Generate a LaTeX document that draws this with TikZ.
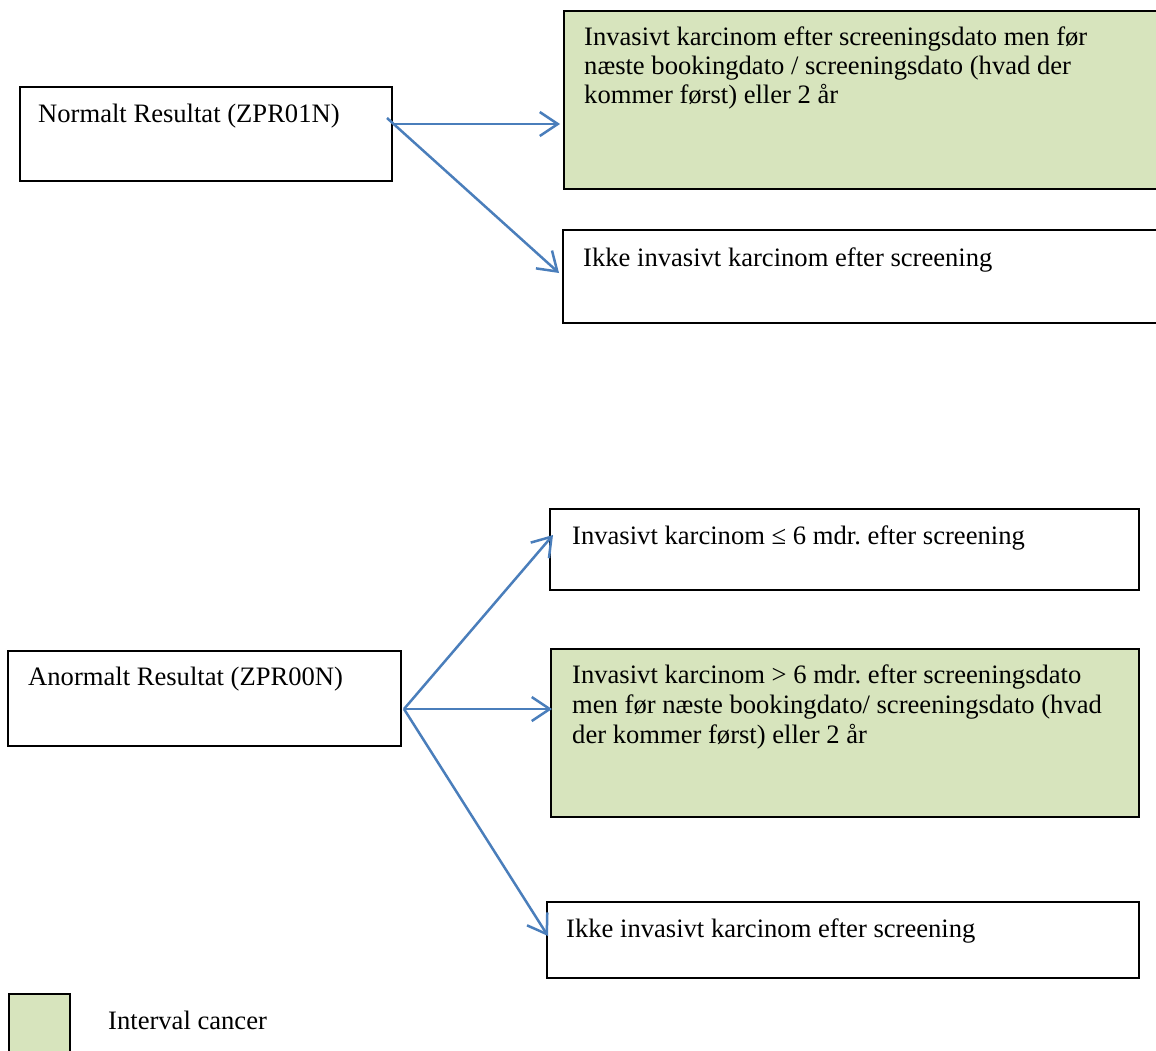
\documentclass[tikz,border=0pt]{standalone}
\usepackage{fontspec}
\setmainfont{Liberation Serif}
\usetikzlibrary{arrows.meta,calc}
\definecolor{igreen}{RGB}{215,228,189}
\definecolor{iblue}{RGB}{74,126,187}
\frenchspacing
\begin{document}
\begin{tikzpicture}[x=1pt,y=-1pt,
  boxw/.style={draw=black,line width=2pt,fill=white,rectangle,inner sep=0pt,anchor=north west},
  boxg/.style={boxw,fill=igreen},
  txt/.style={inner sep=0pt,anchor=base west,align=left,font=\fontsize{26.6}{30}\selectfont\frenchspacing},
  conn/.style={draw=iblue,line width=2.5pt,-{Straight Barb[length=18pt,width=24pt,line width=2.5pt]}}]
\clip (0,0) rectangle (1156,1050);
\fill[white] (0,0) rectangle (1156,1050);
% boxes
\node[boxw,minimum width=372pt,minimum height=94pt] (a) at (19,86) {};
\node[boxg,minimum width=600pt,minimum height=178pt] (g1) at (563,10) {};
\node[boxw,minimum width=600pt,minimum height=93pt] (b2) at (562,229) {};
\node[boxw,minimum width=393pt,minimum height=95pt] (c) at (7,650) {};
\node[boxw,minimum width=589pt,minimum height=81pt] (d1) at (549,508) {};
\node[boxg,minimum width=588pt,minimum height=168pt] (d2) at (550,648) {};
\node[boxw,minimum width=592pt,minimum height=76pt] (d3) at (546,901) {};
\node[boxg,minimum width=61pt,minimum height=70pt] (leg) at (8,993) {};
% texts
\node[txt] (ta) at (38,122) {Normalt Resultat (ZPR01N)};
\node[txt,font=\fontsize{26.6}{29}\selectfont\frenchspacing] (tg1) at (584,103) {Invasivt karcinom efter screeningsdato men før\\næste bookingdato / screeningsdato (hvad der\\kommer først) eller 2 år};
\node[txt] (tb2) at (583,266) {Ikke invasivt karcinom efter screening};
\node[txt] (tc) at (28,685) {Anormalt Resultat (ZPR00N)};
\node[txt] (td1) at (572,544) {Invasivt karcinom ≤ 6 mdr. efter screening};
\node[txt] (td2) at (572,743) {Invasivt karcinom > 6 mdr. efter screeningsdato\\men før næste bookingdato/ screeningsdato (hvad\\der kommer først) eller 2 år};
\node[txt] (td3) at (566,937) {Ikke invasivt karcinom efter screening};
\node[txt] (tleg) at (108,1029) {Interval cancer};
% connectors
\coordinate (a1) at ($(a.north east)+(-6,32)$);
\coordinate (a2) at ($(a.north east)+(1,38)$);
\draw[conn] (a2) -- ($(g1.north west)+(-3,114)$);
\draw[conn] (a1) -- ($(b2.north west)+(-3,44)$);
\coordinate (c1) at ($(c.north east)+(2,59)$);
\draw[conn] (c1) -- ($(d1.north west)+(4,27)$);
\draw[conn] (c1) -- ($(d2.north west)+(2,61)$);
\draw[conn] (c1) -- ($(d3.north west)+(2,35)$);
\end{tikzpicture}
\end{document}
